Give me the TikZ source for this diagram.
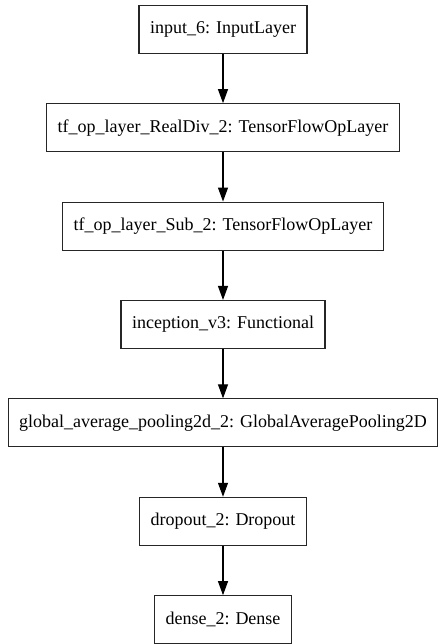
\documentclass[tikz,border=0pt]{standalone}
\usepackage{fontspec}
\setmainfont{Liberation Serif}
\usetikzlibrary{positioning, arrows.meta}

\begin{document}
\begin{tikzpicture}[x=1bp, y=1bp,
  layer/.style={draw=black!85, line width=1.1bp, minimum height=48bp, inner xsep=11bp,
    font=\fontsize{18bp}{20bp}\selectfont},
  flow/.style={-{Triangle[width=10bp,length=14bp]}, line width=1.1bp},
  node distance=49.3bp]
\useasboundingbox (0,0) rectangle (447,-644);
% layers, top to bottom
\node[layer] (input) at (223,-29.3) {input\_6: InputLayer};
\node[layer, below=of input] (realdiv) {tf\_op\_layer\_RealDiv\_2: TensorFlowOpLayer};
\node[layer, below=of realdiv] (sub) {tf\_op\_layer\_Sub\_2: TensorFlowOpLayer};
\node[layer, below=of sub] (incep) {inception\_v3: Functional};
\node[layer, below=of incep] (gap) {global\_average\_pooling2d\_2: GlobalAveragePooling2D};
\node[layer, below=of gap] (drop) {dropout\_2: Dropout};
\node[layer, below=of drop] (dense) {dense\_2: Dense};
% connections
\draw[flow] (input) -- (realdiv);
\draw[flow] (realdiv) -- (sub);
\draw[flow] (sub) -- (incep);
\draw[flow] (incep) -- (gap);
\draw[flow] (gap) -- (drop);
\draw[flow] (drop) -- (dense);
\end{tikzpicture}
\end{document}
